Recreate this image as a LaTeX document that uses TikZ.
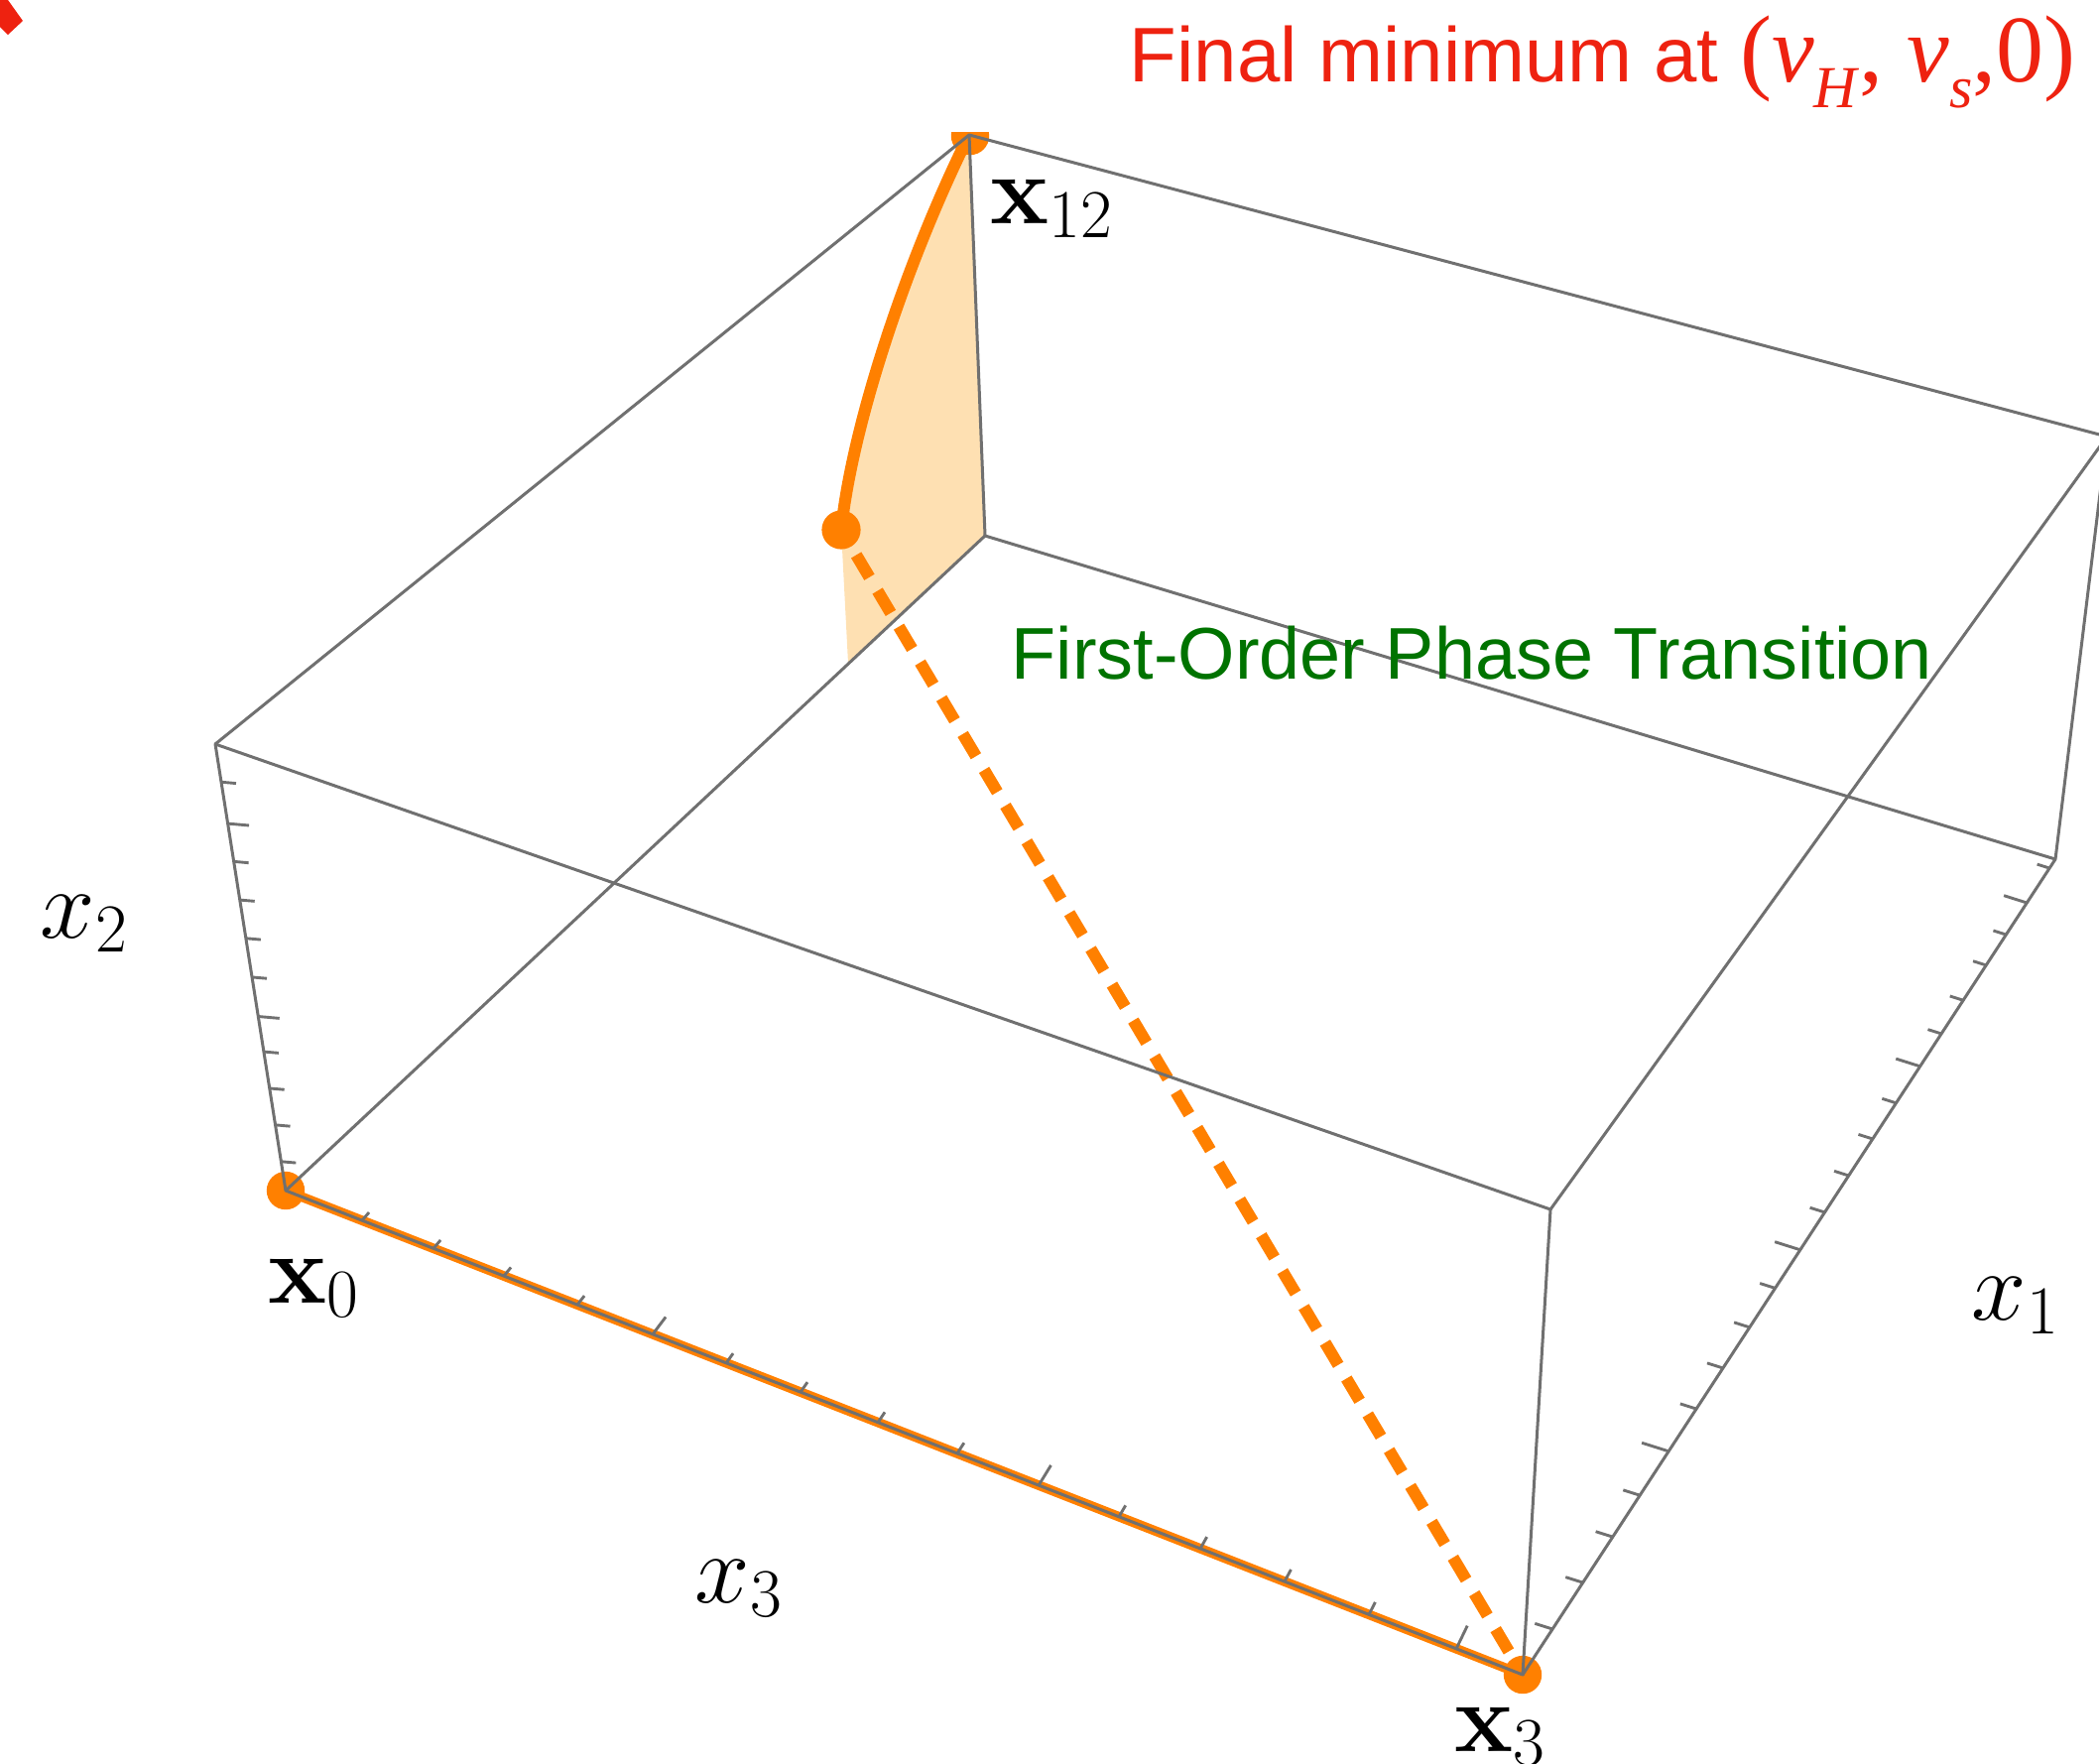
\documentclass[tikz,border=0pt]{standalone}
\usepackage[no-math]{fontspec}
\setmainfont{Liberation Sans}
\newfontfamily\seriffont{Liberation Serif}
\usetikzlibrary{calc}
\definecolor{boxgray}{RGB}{112,112,112}
\definecolor{mmaorange}{RGB}{255,128,0}
\definecolor{mmafill}{RGB}{254,224,178}
\definecolor{titlered}{RGB}{238,34,16}
\definecolor{labelgreen}{RGB}{0,115,0}
\begin{document}
\begin{tikzpicture}[x=0.25pt,y=-0.25pt,
  edge/.style={draw=boxgray,line width=0.75pt,line join=round},
  tickmark/.style={draw=boxgray,line width=0.72pt},
  orangecurve/.style={draw=mmaorange,line width=3pt},
  orangeline/.style={draw=mmaorange,line width=2.4pt},
  orangedash/.style={draw=mmaorange,line width=3pt,dash pattern=on 6.5pt off 4pt,dash phase=3.1pt},
  dotmark/.style={fill=mmaorange},
  mathlabel/.style={anchor=base west,inner sep=0pt,font=\fontsize{25}{25}\selectfont},
]
\useasboundingbox (0,0) rectangle (2116,1777);
\clip (0,0) rectangle (2116,1777);

% box vertices
\coordinate (A) at (217,750);
\coordinate (B) at (288,1200);
\coordinate (C) at (1535,1688);
\coordinate (D) at (1563,1219);
\coordinate (E) at (2072,866);
\coordinate (F) at (993,540);
\coordinate (G) at (2124,440);
\coordinate (H) at (977,136);
\coordinate (P) at (848,534);
\coordinate (Q) at ($(F)!0.1957!(B)$);

% shaded region
\fill[mmafill] (P) -- (Q) -- (F) -- (H) .. controls (920,250) and (860,420) .. (P) -- cycle;

% orange paths
\draw[orangeline] (B) -- (C);
\draw[orangedash] (P) -- (C);
\draw[orangecurve] (P) .. controls (860,420) and (920,250) .. (H);
\fill[dotmark] (B) circle[radius=4.8pt];
\fill[dotmark] (C) circle[radius=4.8pt];
\fill[dotmark] (P) circle[radius=4.9pt];
\begin{scope}
  \clip (900,133) rectangle (1060,220);
  \fill[dotmark] (978,137) circle[radius=4.8pt];
\end{scope}

% box edges
\draw[edge] (A) -- (B) -- (C) -- (D) -- cycle;
\draw[edge] (H) -- (F) -- (E) -- (G) -- cycle;
\draw[edge] (A) -- (H);
\draw[edge] (B) -- (F);
\draw[edge] (C) -- (E);
\draw[edge] (D) -- (G);

% ticks on x2 axis (A--B)
\foreach \pos/\mj in {0.085/0,0.178/1,0.263/0,0.349/0,0.435/0,0.522/0,0.610/1,0.689/0,0.771/0,0.853/0,0.935/0}{
  \pgfmathsetmacro\len{ifthenelse(\mj>0,21.5,15)}
  \draw[tickmark] ($(A)!\pos!(B)$) -- ++(5:\len);
}
% ticks on x3 axis (B--C)
\foreach \pos/\mj in {0.0617/0,0.1195/0,0.1764/0,0.2358/0,0.2967/1,0.3561/0,0.4162/0,0.4788/0,0.5429/0,0.6087/1,0.6736/0,0.7394/0,0.8075/0,0.8757/0,0.9463/1}{
  \pgfmathsetmacro\ang{-47.8-17.4*\pos}
  \pgfmathsetmacro\len{ifthenelse(\mj>0,20+6*\pos,10.5+4*\pos)}
  \draw[tickmark] ($(B)!\pos!(C)$) -- ++(\ang:\len);
}
% ticks on x1 axis (C--E)
\foreach \pos/\mj in {0.056/0,0.113/0,0.169/0,0.220/0,0.274/1,0.326/0,0.376/0,0.426/0,0.474/0,0.521/1,0.567/0,0.612/0,0.657/0,0.701/0,0.746/1,0.786/0,0.827/0,0.870/0,0.9075/0,0.9465/1,0.989/0}{
  \pgfmathsetmacro\len{ifthenelse(\mj>0,30-6*\pos,19-6*\pos)}
  \draw[tickmark] ($(C)!\pos!(E)$) -- ++(197.5:\len);
}

% labels
\node[mathlabel] (lx12) at (998,225) {$\mathbf{x}_{12}$};
\node[mathlabel] (lx0) at (270,1313) {$\mathbf{x}_{0}$};
\node[mathlabel] (lx3b) at (1466,1765) {$\mathbf{x}_{3}$};
\node[mathlabel] (lax2) at (40,945) {$x_2$};
\node[mathlabel] (lax1) at (1987,1330) {$x_1$};
\node[mathlabel] (lax3) at (700,1615) {$x_3$};

\node[anchor=base west,inner sep=0pt,text=labelgreen,font=\fontsize{18.45}{20}\selectfont] (fopt) at (1019,684) {First-Order Phase Transition};

\node[anchor=base west,inner sep=0pt,text=titlered,font=\fontsize{19.5}{20}\selectfont] (title) at (1138,82)
  {Final minimum at {\seriffont\fontsize{24}{24}\selectfont (\textit{v}\raisebox{-6.5pt}{\fontsize{15}{15}\selectfont\textit{H}}, \textit{v}\raisebox{-6.5pt}{\fontsize{15}{15}\selectfont\textit{s}},0)}};

% red mark in corner
\fill[titlered] (0,0) -- (8,0) -- (23,21) -- (8,35) -- (0,27) -- cycle;
\end{tikzpicture}
\end{document}
